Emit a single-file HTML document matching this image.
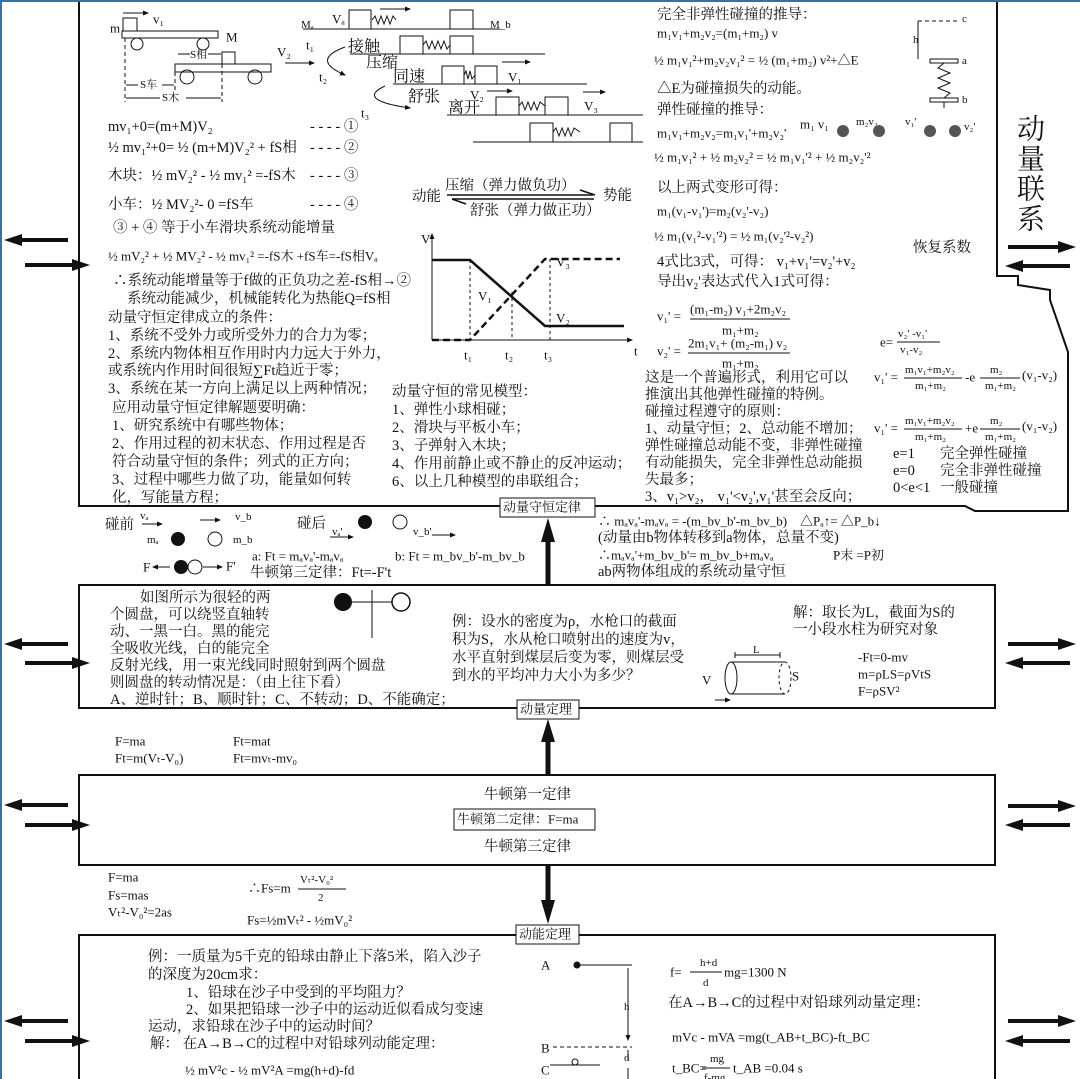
<!DOCTYPE html>
<html><head><meta charset="utf-8"><style>
html,body{margin:0;padding:0;background:#fff}
svg{display:block}
text{font-family:"Liberation Serif","Noto Serif CJK SC",serif;font-size:14.5px;fill:#111;dominant-baseline:central}
.s{font-size:11px}
.m{font-size:13px}
.b{font-size:28px}
</style></head><body>
<svg width="1080" height="1079" viewBox="0 0 1080 1079" xmlns="http://www.w3.org/2000/svg">
<defs>
<marker id="as" markerWidth="6" markerHeight="6" refX="5" refY="3" orient="auto"><path d="M0,0.5 L6,3 L0,5.5 z" fill="#111"/></marker>
</defs>
<rect width="1080" height="1079" fill="#fff"/>
<line x1="1" y1="0" x2="1" y2="1079" stroke="#3a6ea5" stroke-width="2"/>
<line x1="0" y1="1" x2="1080" y2="1" stroke="#3a6ea5" stroke-width="2"/>

<path d="M79,2 L79,506 L965,506 L975,511 L1068,511 L1068,352 L1050,300 L1050,290 L1018,285 L1018,276 L997,276 L997,2" fill="none" stroke="#111" stroke-width="2"/>
<rect x="79" y="585" width="916" height="123" fill="none" stroke="#111" stroke-width="2"/>
<rect x="79" y="775" width="916" height="90" fill="none" stroke="#111" stroke-width="2"/>
<path d="M79,1079 L79,935 L995,935 L995,1079" fill="none" stroke="#111" stroke-width="2"/>

<line x1="548" y1="585" x2="548" y2="540" stroke="#111" stroke-width="5"/><path d="M541,542 L548,518 L555,542z" fill="#111"/>
<line x1="548" y1="775" x2="548" y2="740" stroke="#111" stroke-width="5"/><path d="M541,742 L548,719 L555,742z" fill="#111"/>
<line x1="548" y1="865" x2="548" y2="902" stroke="#111" stroke-width="5"/><path d="M541,900 L548,924 L555,900z" fill="#111"/>

<g fill="#fff" stroke="#111">
<rect x="500" y="498" width="95" height="19"/>
<rect x="517" y="700" width="62" height="19"/>
<rect x="454" y="809" width="141" height="21"/>
<rect x="516" y="925" width="63" height="19"/>
</g>
<text x="503" y="507" class="m">动量守恒定律</text>
<text x="520" y="709" class="m">动量定理</text>
<text x="457" y="819" class="m">牛顿第二定律：F=ma</text>
<text x="519" y="934" class="m">动能定理</text>

<g stroke="#111" stroke-width="4">
<line x1="68" y1="240" x2="18" y2="240"/><line x1="25" y1="265" x2="78" y2="265"/>
<line x1="68" y1="644" x2="18" y2="644"/><line x1="25" y1="663" x2="78" y2="663"/>
<line x1="68" y1="805" x2="18" y2="805"/><line x1="25" y1="825" x2="78" y2="825"/>
<line x1="68" y1="1021" x2="18" y2="1021"/><line x1="25" y1="1041" x2="78" y2="1041"/>
<line x1="1008" y1="247" x2="1060" y2="247"/><line x1="1070" y1="266" x2="1020" y2="266"/>
<line x1="1008" y1="644" x2="1060" y2="644"/><line x1="1070" y1="663" x2="1020" y2="663"/>
<line x1="1008" y1="806" x2="1060" y2="806"/><line x1="1070" y1="825" x2="1020" y2="825"/>
<line x1="1008" y1="1021" x2="1060" y2="1021"/><line x1="1070" y1="1041" x2="1020" y2="1041"/>
</g>
<g fill="#111">
<path d="M4,240 L22,234 L22,246z"/><path d="M90,265 L72,259 L72,271z"/>
<path d="M4,644 L22,638 L22,650z"/><path d="M90,663 L72,657 L72,669z"/>
<path d="M4,805 L22,799 L22,811z"/><path d="M90,825 L72,819 L72,831z"/>
<path d="M4,1021 L22,1015 L22,1027z"/><path d="M90,1041 L72,1035 L72,1047z"/>
<path d="M1076,247 L1058,241 L1058,253z"/><path d="M1005,266 L1023,260 L1023,272z"/>
<path d="M1076,644 L1058,638 L1058,650z"/><path d="M1005,663 L1023,657 L1023,669z"/>
<path d="M1076,806 L1058,800 L1058,812z"/><path d="M1005,825 L1023,819 L1023,831z"/>
<path d="M1076,1021 L1058,1015 L1058,1027z"/><path d="M1005,1041 L1023,1035 L1023,1047z"/>
</g>

<g fill="none" stroke="#111" stroke-width="1">
<rect x="123" y="18" width="14" height="13"/>
<rect x="122" y="31" width="96" height="7"/>
<circle cx="137" cy="44" r="6"/><circle cx="203" cy="44" r="6"/>
<rect x="222" y="52" width="13" height="12"/>
<rect x="175" y="64" width="96" height="8"/>
<circle cx="187" cy="77" r="7"/><circle cx="255" cy="77" r="7"/>
<line x1="125" y1="38" x2="125" y2="102" stroke-dasharray="4,3"/>
<line x1="175" y1="72" x2="175" y2="90" stroke-dasharray="4,3"/>
<line x1="222" y1="64" x2="222" y2="102" stroke-dasharray="4,3"/>
<line x1="123" y1="13" x2="148" y2="13" marker-end="url(#as)"/>
<line x1="285" y1="63" x2="314" y2="63" marker-end="url(#as)"/>
<line x1="178" y1="54" x2="190" y2="54"/><line x1="208" y1="54" x2="221" y2="54"/>
<line x1="126" y1="85" x2="138" y2="85"/><line x1="162" y1="85" x2="174" y2="85"/>
<line x1="126" y1="98" x2="160" y2="98"/><line x1="186" y1="98" x2="221" y2="98"/>
</g>
<text x="110" y="28" class="m">m</text><text x="153" y="19" class="m">v₁</text><text x="226" y="37" class="m">M</text>
<text x="190" y="55" class="s">S相</text><text x="140" y="85" class="s">S车</text><text x="162" y="98" class="s">S木</text>
<text x="277" y="52" class="m">V₂</text>

<g fill="none" stroke="#111" stroke-width="1">
<line x1="303" y1="29" x2="500" y2="29"/><rect x="349" y="10" width="22" height="19"/><rect x="450" y="10" width="23" height="19"/>
<polyline points="372,20 375,16 378,24 381,16 384,24 387,16 390,24 393,16 396,20"/>
<line x1="380" y1="9" x2="410" y2="9" marker-end="url(#as)"/>
<line x1="350" y1="54" x2="545" y2="54"/><rect x="400" y="36" width="23" height="18"/><rect x="450" y="36" width="23" height="18"/>
<polyline points="423,45 426,41 429,49 432,41 435,49 438,41 441,49 444,41 447,49 450,45"/>
<line x1="393" y1="84" x2="587" y2="84"/><rect x="442" y="66" width="22" height="18"/><rect x="475" y="66" width="22" height="18"/>
<polyline points="464,75 466,71 468,79 470,71 472,79 475,75"/>
<line x1="502" y1="62" x2="530" y2="62" marker-end="url(#as)"/>
<line x1="447" y1="115" x2="643" y2="115"/><rect x="496" y="97" width="23" height="18"/><rect x="545" y="97" width="23" height="18"/>
<polyline points="519,106 522,102 525,110 528,102 531,110 534,102 537,110 540,102 545,106"/>
<line x1="487" y1="91" x2="512" y2="91" marker-end="url(#as)"/>
<line x1="583" y1="92" x2="605" y2="92" marker-end="url(#as)"/>
<line x1="473" y1="142" x2="643" y2="142"/><rect x="530" y="123" width="23" height="19"/><rect x="610" y="123" width="22" height="19"/>
<polyline points="553,132 556,128 559,136 562,128 565,136 568,128 571,136 574,128 580,132"/>
<path d="M345,47 Q310,60 345,75" marker-end="url(#as)"/>
<path d="M385,86 Q355,100 410,108" marker-end="url(#as)"/>
</g>
<text x="301" y="25" class="s">Mₐ</text><text x="332" y="19" class="m">Vₐ</text><text x="490" y="25" class="s">M_b</text>
<text x="306" y="45" class="m">t₁</text><text x="319" y="77" class="m">t₂</text><text x="361" y="113" class="m">t₃</text>
<text x="348" y="47" style="font-size:16px">接触</text><text x="366" y="63" style="font-size:16px">压缩</text>
<text x="393" y="77" style="font-size:16px">同速</text><text x="508" y="77" class="m">V₁</text>
<text x="408" y="97" style="font-size:16px">舒张</text><text x="448" y="108" style="font-size:16px">离开</text>
<text x="470" y="95" class="m">V₂</text><text x="584" y="106" class="m">V₃</text>

<text x="108" y="127">mv₁+0=(m+M)V₂</text><text x="310" y="127">- - - -  ①</text>
<text x="108" y="148">½ mv₁²+0= ½ (m+M)V₂² +  fS相</text><text x="310" y="148">- - - -  ②</text>
<text x="108" y="176">木块：½ mV₂² - ½ mv₁²  =-fS木</text><text x="310" y="176">- - - -  ③</text>
<text x="108" y="205">小车：½ MV₂²-  0  =fS车</text><text x="310" y="205">- - - -  ④</text>
<text x="113" y="228">③ + ④ 等于小车滑块系统动能增量</text>
<text x="108" y="256" class="m">½ mV₂² + ½ MV₂²  -  ½ mv₁² =-fS木 +fS车=-fS相Vₐ</text>
<text x="113" y="281">∴系统动能增量等于f做的正负功之差-fS相→②</text>
<text x="127" y="299">系统动能减少，机械能转化为热能Q=fS相</text>
<text x="108" y="318">动量守恒定律成立的条件：</text>
<text x="108" y="336">1、系统不受外力或所受外力的合力为零；</text>
<text x="108" y="354">2、系统内物体相互作用时内力远大于外力，</text>
<text x="108" y="371">或系统内作用时间很短∑Ft趋近于零；</text>
<text x="108" y="389">3、系统在某一方向上满足以上两种情况；</text>
<text x="112" y="408">应用动量守恒定律解题要明确：</text>
<text x="112" y="426">1、研究系统中有哪些物体；</text>
<text x="112" y="444">2、作用过程的初末状态、作用过程是否</text>
<text x="112" y="462">符合动量守恒的条件；列式的正方向；</text>
<text x="112" y="480">3、过程中哪些力做了功，能量如何转</text>
<text x="112" y="498">化，写能量方程；</text>

<text x="392" y="392">动量守恒的常见模型：</text>
<text x="392" y="410">1、弹性小球相碰；</text>
<text x="392" y="428">2、滑块与平板小车；</text>
<text x="392" y="446">3、子弹射入木块；</text>
<text x="392" y="464">4、作用前静止或不静止的反冲运动；</text>
<text x="392" y="482">6、以上几种模型的串联组合；</text>

<text x="412" y="197">动能</text><text x="445" y="186">压缩（弹力做负功）</text>
<text x="470" y="211">舒张（弹力做正功）</text><text x="603" y="196">势能</text>
<g stroke="#111" stroke-width="1.5" fill="none">
<line x1="447" y1="195" x2="593" y2="195"/><path d="M580,190 L595,195"/>
<line x1="452" y1="199" x2="594" y2="199"/><path d="M452,199 L466,204"/>
</g>

<g stroke="#111" fill="none">
<line x1="432" y1="340" x2="432" y2="234" marker-end="url(#as)"/>
<line x1="432" y1="340" x2="632" y2="340" marker-end="url(#as)"/>
<polyline points="432,260 470,260 545,326 624,326" stroke-width="2.5"/>
<polyline points="432,340 470,340 545,259 620,259" stroke-width="2.5" stroke-dasharray="7,4"/>
<line x1="470" y1="260" x2="470" y2="340" stroke-dasharray="3,3"/>
<line x1="512" y1="292" x2="512" y2="340" stroke-dasharray="3,3"/>
<line x1="550" y1="259" x2="550" y2="340" stroke-dasharray="3,3"/>
</g>
<text x="421" y="239" class="m">V</text><text x="634" y="351" class="m">t</text>
<text x="478" y="296" class="m">V₁</text><text x="556" y="318" class="m">V₂</text><text x="556" y="262" class="m">V₃</text>
<text x="464" y="355" class="m">t₁</text><text x="505" y="355" class="m">t₂</text><text x="544" y="355" class="m">t₃</text>

<text x="657" y="15">完全非弹性碰撞的推导：</text>
<text x="657" y="33" class="m">m₁v₁+m₂v₂=(m₁+m₂) v</text>
<text x="654" y="60" class="m">½ m₁v₁²+m₂v₂v₁²  =  ½  (m₁+m₂) v²+△E</text>
<text x="657" y="89">△E为碰撞损失的动能。</text>
<text x="657" y="110">弹性碰撞的推导：</text>
<text x="657" y="133" class="m">m₁v₁+m₂v₂=m₁v₁'+m₂v₂'</text>
<text x="654" y="157" class="m">½ m₁v₁² + ½ m₂v₂² = ½ m₁v₁'² + ½ m₂v₂'²</text>
<text x="657" y="188">以上两式变形可得：</text>
<text x="657" y="211" class="m">m₁(v₁-v₁')=m₂(v₂'-v₂)</text>
<text x="654" y="236" class="m">½ m₁(v₁²-v₁'²) = ½ m₁(v₂'²-v₂²)</text>
<text x="657" y="262">4式比3式，可得： v₁+v₁'=v₂'+v₂</text>
<text x="657" y="282">导出v₂'表达式代入1式可得：</text>
<text x="657" y="316" class="m">v₁' =</text><text x="690" y="309" class="m">(m₁-m₂) v₁+2m₂v₂</text><line x1="690" y1="319" x2="790" y2="319" stroke="#111"/><text x="722" y="330" class="m">m₁+m₂</text>
<text x="657" y="351" class="m">v₂' =</text><text x="688" y="343" class="m">2m₁v₁+ (m₂-m₁) v₂</text><line x1="688" y1="353" x2="790" y2="353" stroke="#111"/><text x="722" y="363" class="m">m₁+m₂</text>
<text x="645" y="378">这是一个普遍形式，利用它可以</text>
<text x="645" y="395">推演出其他弹性碰撞的特例。</text>
<text x="645" y="412">碰撞过程遵守的原则：</text>
<text x="645" y="429">1、动量守恒；2、总动能不增加；</text>
<text x="645" y="446">弹性碰撞总动能不变，非弹性碰撞</text>
<text x="645" y="463">有动能损失，完全非弹性总动能损</text>
<text x="645" y="480">失最多；</text>
<text x="645" y="497">3、v₁>v₂， v₁'&lt;v₂',v₁'甚至会反向；</text>
<text x="880" y="342" class="m">e=</text><text x="898" y="334" class="s">v₂' -v₁'</text><line x1="897" y1="342" x2="940" y2="342" stroke="#111"/><text x="900" y="350" class="s">v₁-v₂</text>
<text x="874" y="377" class="m">v₁' =</text><text x="905" y="370" class="s">m₁v₁+m₂v₂</text><line x1="904" y1="378" x2="962" y2="378" stroke="#111"/><text x="915" y="386" class="s">m₁+m₂</text>
<text x="965" y="377" class="m">-e</text><text x="990" y="370" class="s">m₂</text><line x1="980" y1="378" x2="1020" y2="378" stroke="#111"/><text x="985" y="386" class="s">m₁+m₂</text><text x="1022" y="375" class="m">(v₁-v₂)</text>
<text x="874" y="428" class="m">v₁' =</text><text x="905" y="421" class="s">m₁v₁+m₂v₂</text><line x1="904" y1="429" x2="962" y2="429" stroke="#111"/><text x="915" y="437" class="s">m₁+m₂</text>
<text x="965" y="428" class="m">+e</text><text x="990" y="421" class="s">m₂</text><line x1="980" y1="429" x2="1020" y2="429" stroke="#111"/><text x="985" y="437" class="s">m₁+m₂</text><text x="1022" y="426" class="m">(v₁-v₂)</text>
<text x="893" y="454">e=1</text><text x="940" y="454">完全弹性碰撞</text>
<text x="893" y="471">e=0</text><text x="940" y="471">完全非弹性碰撞</text>
<text x="893" y="488">0&lt;e&lt;1</text><text x="940" y="488">一般碰撞</text>

<g stroke="#111" fill="none">
<line x1="918" y1="21" x2="958" y2="21" stroke-dasharray="4,3"/>
<line x1="918" y1="21" x2="918" y2="59"/>
<rect x="930" y="59" width="28" height="4"/>
<polyline points="944,63 938,68 950,73 938,78 950,83 938,88 950,93 944,98"/>
<rect x="930" y="98" width="28" height="4"/><line x1="944" y1="102" x2="944" y2="108"/>
</g>
<text x="962" y="19" class="s">c</text><text x="913" y="40" class="s">h</text><text x="962" y="61" class="s">a</text><text x="962" y="100" class="s">b</text>
<text x="800" y="124" class="m">m₁ v₁</text><text x="856" y="122" class="s">m₂v₂</text><text x="905" y="122" class="s">v₁'</text><text x="964" y="127" class="s">v₂'</text>
<g fill="#555"><circle cx="843" cy="131" r="6"/><circle cx="879" cy="131" r="6"/><circle cx="930" cy="131" r="6"/><circle cx="955" cy="131" r="6"/></g>
<text x="1017" y="130" class="b">动</text><text x="1017" y="160" class="b">量</text><text x="1017" y="190" class="b">联</text><text x="1017" y="220" class="b">系</text>
<text x="913" y="248">恢复系数</text>

<text x="105" y="525">碰前</text><text x="140" y="516" class="s">vₐ</text><line x1="142" y1="524" x2="162" y2="524" stroke="#111" marker-end="url(#as)"/>
<line x1="200" y1="520" x2="220" y2="520" stroke="#111" marker-end="url(#as)"/><text x="235" y="517" class="s">v_b</text>
<text x="147" y="540" class="s">mₐ</text><circle cx="178" cy="539" r="7" fill="#111"/><circle cx="215" cy="539" r="7" fill="none" stroke="#111"/><text x="233" y="540" class="s">m_b</text>
<text x="143" y="567" class="m">F</text><line x1="170" y1="567" x2="153" y2="567" stroke="#111" marker-end="url(#as)"/><circle cx="181" cy="567" r="7" fill="#111"/><circle cx="195" cy="567" r="7" fill="none" stroke="#111"/><line x1="203" y1="567" x2="222" y2="567" stroke="#111" marker-end="url(#as)"/><text x="226" y="566" class="m">F'</text>
<text x="297" y="524">碰后</text><text x="332" y="532" class="s">vₐ'</text><circle cx="365" cy="522" r="7" fill="#111"/><circle cx="400" cy="522" r="7" fill="none" stroke="#111"/><text x="413" y="532" class="s">v_b'</text>
<line x1="330" y1="537" x2="353" y2="537" stroke="#111" marker-end="url(#as)"/><line x1="432" y1="535" x2="455" y2="535" stroke="#111" marker-end="url(#as)"/>
<text x="252" y="556" class="m">a: Ft = mₐvₐ'-mₐvₐ</text><text x="395" y="556" class="m">b: Ft = m_bv_b'-m_bv_b</text>
<text x="250" y="573">牛顿第三定律：Ft=-F't</text>
<text x="598" y="521" class="m">∴ mₐvₐ'-mₐvₐ = -(m_bv_b'-m_bv_b)</text><text x="800" y="521" class="m">△Pₐ↑= △P_b↓</text>
<text x="598" y="538">(动量由b物体转移到a物体，总量不变)</text>
<text x="598" y="555" class="m">∴mₐvₐ'+m_bv_b'= m_bv_b+mₐvₐ</text><text x="833" y="555" class="m">P末 =P初</text>
<text x="598" y="572">ab两物体组成的系统动量守恒</text>

<text x="140" y="598">如图所示为很轻的两</text>
<text x="110" y="615">个圆盘，可以绕竖直轴转</text>
<text x="110" y="632">动、一黑一白。黑的能完</text>
<text x="110" y="649">全吸收光线，白的能完全</text>
<text x="110" y="666">反射光线，用一束光线同时照射到两个圆盘</text>
<text x="110" y="683">则圆盘的转动情况是：（由上往下看）</text>
<text x="110" y="700">A、逆时针；B、顺时针；C、不转动；D、不能确定；</text>
<circle cx="343" cy="602" r="9" fill="#111"/><circle cx="401" cy="602" r="9" fill="none" stroke="#111" stroke-width="1.5"/>
<line x1="352" y1="602" x2="392" y2="602" stroke="#111"/><line x1="372" y1="590" x2="372" y2="638" stroke="#111"/>
<text x="452" y="622">例：设水的密度为ρ，水枪口的截面</text>
<text x="452" y="640">积为S，水从枪口喷射出的速度为v，</text>
<text x="452" y="658">水平直射到煤层后变为零，则煤层受</text>
<text x="452" y="676">到水的平均冲力大小为多少？</text>
<g stroke="#111" fill="none">
<ellipse cx="731" cy="678" rx="6" ry="16"/><ellipse cx="785" cy="678" rx="6" ry="16" stroke-dasharray="3,3"/>
<line x1="731" y1="662" x2="785" y2="662"/><line x1="731" y1="694" x2="785" y2="694"/>
<line x1="735" y1="655" x2="780" y2="655"/><line x1="735" y1="652" x2="735" y2="658"/><line x1="780" y1="652" x2="780" y2="658"/>
<line x1="715" y1="700" x2="730" y2="700" marker-end="url(#as)"/>
</g>
<text x="753" y="650" class="s">L</text><text x="702" y="680" class="m">V</text><text x="792" y="676" class="m">S</text>
<text x="793" y="613">解：取长为L，截面为S的</text>
<text x="793" y="630">一小段水柱为研究对象</text>
<text x="858" y="657" class="m">-Ft=0-mv</text>
<text x="858" y="674" class="m">m=ρLS=ρVtS</text>
<text x="858" y="691" class="m">F=ρSV²</text>

<text x="115" y="741" class="m">F=ma</text><text x="115" y="758" class="m">Ft=m(Vₜ-V₀)</text>
<text x="233" y="741" class="m">Ft=mat</text><text x="233" y="758" class="m">Ft=mvₜ-mv₀</text>

<text x="484" y="795">牛顿第一定律</text>
<text x="484" y="847">牛顿第三定律</text>

<text x="108" y="877" class="m">F=ma</text><text x="108" y="895" class="m">Fs=mas</text><text x="108" y="912" class="m">Vₜ²-V₀²=2as</text>
<text x="248" y="888" class="m">∴Fs=m</text><text x="300" y="880" class="s">Vₜ²-V₀²</text><line x1="298" y1="889" x2="346" y2="889" stroke="#111"/><text x="318" y="898" class="s">2</text>
<text x="247" y="920" class="m">Fs=½mVₜ² - ½mV₀²</text>

<text x="148" y="957">例：一质量为5千克的铅球由静止下落5米，陷入沙子</text>
<text x="148" y="975">的深度为20cm求：</text>
<text x="186" y="993">1、铅球在沙子中受到的平均阻力？</text>
<text x="186" y="1010">2、如果把铅球一沙子中的运动近似看成匀变速</text>
<text x="148" y="1027">运动，求铅球在沙子中的运动时间？</text>
<text x="150" y="1044">解：  在A→B→C的过程中对铅球列动能定理：</text>
<text x="185" y="1070" class="m">½ mV²c - ½ mV²A =mg(h+d)-fd</text>
<g stroke="#111" fill="none">
<line x1="577" y1="965" x2="632" y2="965"/><line x1="628" y1="968" x2="628" y2="1040" marker-end="url(#as)"/>
<line x1="553" y1="1047" x2="632" y2="1047" stroke-dasharray="4,3"/>
<line x1="550" y1="1065" x2="600" y2="1065"/><circle cx="575" cy="1062" r="3"/>
<line x1="628" y1="1060" x2="628" y2="1050"/><line x1="628" y1="1068" x2="628" y2="1079"/>
</g>
<circle cx="577" cy="965" r="3.5" fill="#111"/>
<text x="541" y="965" class="m">A</text><text x="541" y="1048" class="m">B</text><text x="541" y="1070" class="m">C</text>
<text x="624" y="1007" class="s">h</text><text x="624" y="1058" class="s">d</text>
<text x="670" y="972" class="m">f=</text><text x="700" y="963" class="s">h+d</text><line x1="690" y1="972" x2="722" y2="972" stroke="#111"/><text x="703" y="983" class="s">d</text><text x="724" y="972" class="m">mg=1300 N</text>
<text x="668" y="1003">在A→B→C的过程中对铅球列动量定理：</text>
<text x="672" y="1037" class="m">mVc - mVA =mg(t_AB+t_BC)-ft_BC</text>
<text x="672" y="1068" class="m">t_BC=</text><text x="710" y="1059" class="s">mg</text><line x1="702" y1="1068" x2="730" y2="1068" stroke="#111"/><text x="704" y="1078" class="s">f-mg</text><text x="733" y="1068" class="m">t_AB =0.04 s</text>
</svg>
</body></html>
